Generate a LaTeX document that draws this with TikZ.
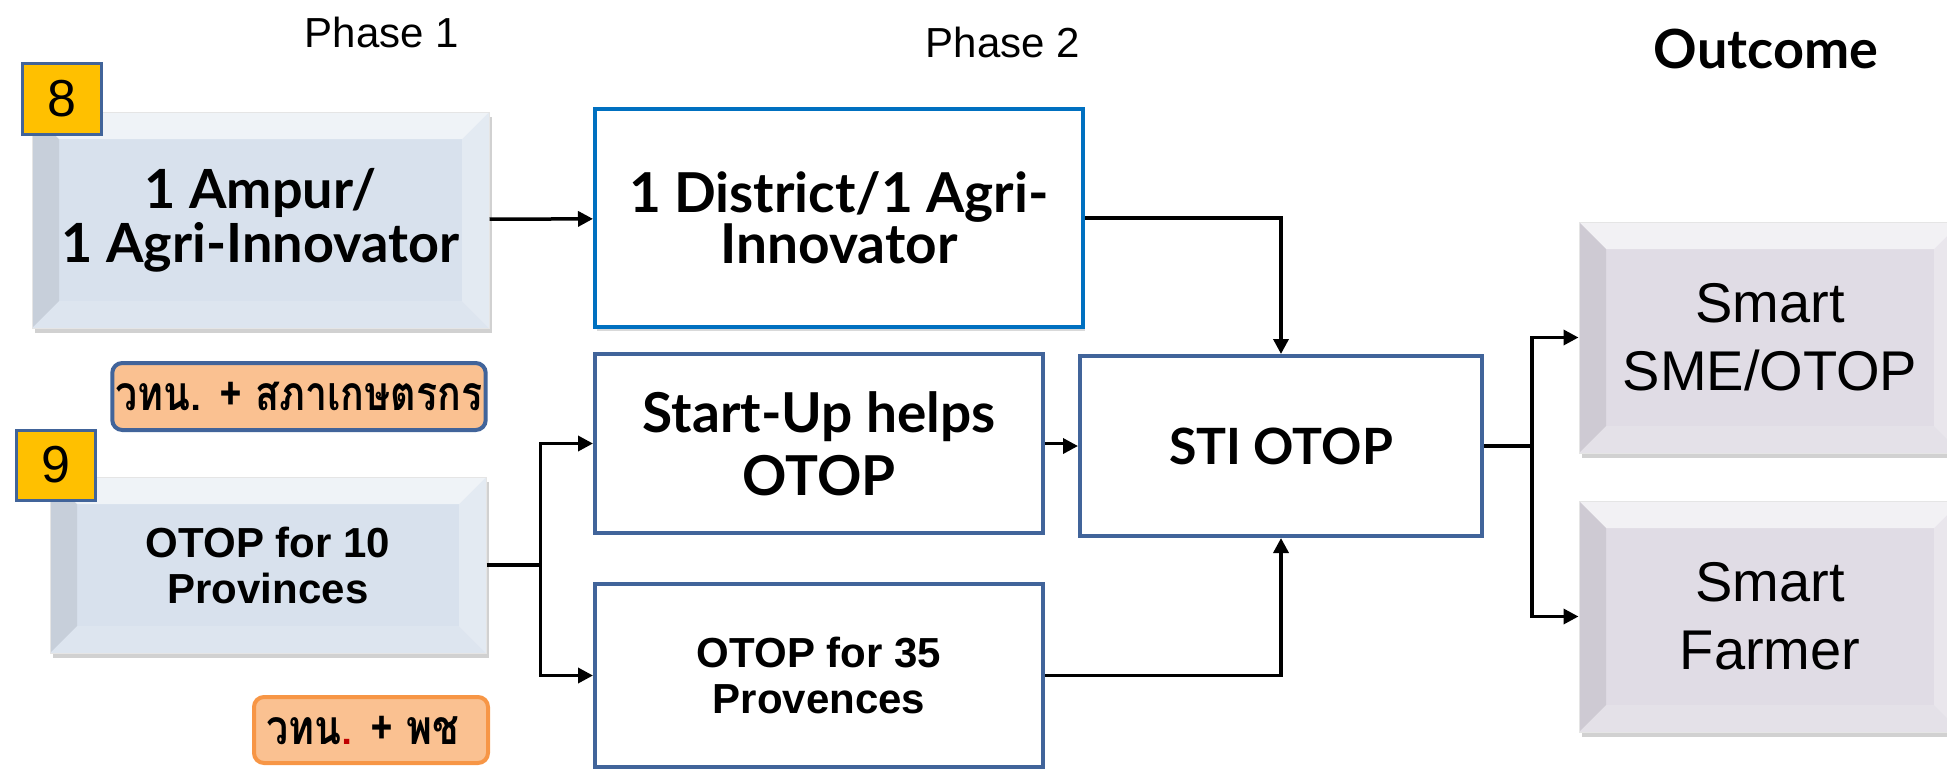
\documentclass[tikz,border=0pt]{standalone}
\usepackage{fontspec}
\setmainfont{Liberation Sans}
\newfontfamily\latofont{Lato}
\newfontfamily\thaifont[Script=Thai]{Loma}
\usetikzlibrary{arrows.meta,shadows,calc}
\definecolor{navy}{HTML}{41649A}
\definecolor{oblue}{HTML}{0070C0}
\definecolor{peach}{HTML}{FAC191}
\definecolor{orng}{HTML}{F79646}
\definecolor{gold}{HTML}{FFC000}
\definecolor{steel}{HTML}{D8E1ED}
\definecolor{lilac}{HTML}{E0DCE5}
\definecolor{dred}{HTML}{C00000}
\newcommand{\fsz}[2]{\fontsize{#1pt}{#2pt}\selectfont}
\newcommand{\bvl}{27pt}
\newcommand{\thai}[1]{\scalebox{0.82}[1]{#1}}

\begin{document}
\begin{tikzpicture}[x=1pt,y=-1pt,
  bevel/.style={fill=#1,draw=black!10,line width=1pt,
    drop shadow={shadow xshift=3pt,shadow yshift=-5pt,opacity=.3,fill=black!60},
    path picture={
      \path (path picture bounding box.north west) coordinate (bnw)
            (path picture bounding box.north east) coordinate (bne)
            (path picture bounding box.south west) coordinate (bsw)
            (path picture bounding box.south east) coordinate (bse);
      % top, left, right, bottom faces
      \fill[white,opacity=.6] (bnw) -- (bne) -- ([xshift=-\bvl,yshift=-\bvl]bne) -- ([xshift=\bvl,yshift=-\bvl]bnw) -- cycle;
      \fill[black,opacity=.08] (bnw) -- ([xshift=\bvl,yshift=-\bvl]bnw) -- ([xshift=\bvl,yshift=\bvl]bsw) -- (bsw) -- cycle;
      \fill[white,opacity=.3] (bne) -- ([xshift=-\bvl,yshift=-\bvl]bne) -- ([xshift=-\bvl,yshift=\bvl]bse) -- (bse) -- cycle;
      \fill[white,opacity=.15] (bsw) -- ([xshift=\bvl,yshift=\bvl]bsw) -- ([xshift=-\bvl,yshift=\bvl]bse) -- (bse) -- cycle;
    }},
  plain/.style={draw=navy,line width=4pt,fill=white},
  badge/.style={draw=navy,line width=3pt,fill=gold,minimum width=79,minimum height=71,font=\fsz{52}{52}},
  tag/.style={rounded corners=10pt,fill=peach,line width=4pt,font=\thaifont\bfseries\fsz{48}{48}},
  segoe/.style={font=\latofont\bfseries\fsz{#1}{#1},align=center},
  arialb/.style={font=\bfseries\fsz{42}{46},align=center},
  smart/.style={bevel=lilac,minimum width=382,minimum height=231,align=center,font=\fsz{56}{68}},
  wire/.style={line width=3.5pt},
  conn/.style={wire,-{Triangle[length=15pt,width=15pt]}}]
\useasboundingbox (0,0) rectangle (1947,769);

% headings
\node[anchor=base,font=\fsz{42}{42}] (ph1) at (382,47) {Phase 1};
\node[anchor=base,font=\fsz{42}{42}] (ph2) at (1003,57) {Phase 2};
\node[anchor=base,font=\latofont\bfseries\fsz{54}{54}] (outc) at (1766,68) {Outcome};

% phase 1
\node[bevel=steel,minimum width=457,minimum height=216,segoe=54] (ampur) at (260.5,220) {1 Ampur/\\1 Agri-Innovator};
\node[badge] (b8) at (61.5,98.5) {8};
\node[tag,draw=navy,minimum width=364,minimum height=67] (tag1) at (299,396.5) {\thai{วทน. + สภาเกษตรกร}};
\node[bevel=steel,minimum width=436,minimum height=176,arialb] (otop10) at (268,565) {OTOP for 10\\Provinces};
\node[badge,minimum height=70] (b9) at (55.5,465) {9};
\node[tag,draw=orng,minimum width=234,minimum height=66] (tag2) at (371,730) {\hspace*{-16pt}\thai{วทน{\color{dred}.} + พช}};

% phase 2
\node[plain,draw=oblue,minimum width=488,minimum height=218,segoe=55,
  drop shadow={shadow xshift=2pt,shadow yshift=-4pt,opacity=.25,fill=black!60}] (district) at (839,218) {1 District/1 Agri-\\[-4pt]Innovator};
\node[plain,minimum width=448,minimum height=179,segoe=63,font=\latofont\bfseries\fsz{55}{63}] (start) at (819,443.5) {Start-Up helps\\OTOP};
\node[plain,minimum width=448,minimum height=183,arialb] (otop35) at (819,675.5) {OTOP for 35\\Provences};
\node[plain,minimum width=402,minimum height=180,segoe=50] (sti) at (1281,446) {STI OTOP};

% outcome
\node[smart] (smart1) at (1770,337.5) {Smart\\SME/OTOP};
\node[smart] (smart2) at (1770,616.5) {Smart\\Farmer};

% links
\draw[conn] (ampur) -- (district);
\draw[conn] (district.east) -| (sti.north);
\draw[conn] (otop35.east) -| (sti.south);
\draw[conn] (start.east) -- ++(20,0) |- (sti.west);
\draw[wire] (otop10.east) -- ++(54,0) coordinate (split);
\draw[conn] (split) |- (start.west);
\draw[conn] (split) |- (otop35.west);
\draw[wire] (sti.east) -- ++(48,0) coordinate (fork);
\draw[conn] (fork) |- (smart1.west);
\draw[conn] (fork) |- (smart2.west);
\end{tikzpicture}
\end{document}
